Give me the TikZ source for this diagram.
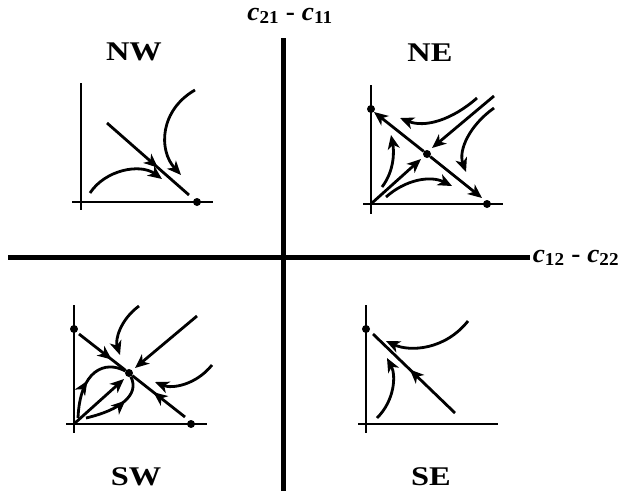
\documentclass[tikz,border=0pt]{standalone}
\usepackage{fontspec}
\setmainfont{Liberation Serif}
\usetikzlibrary{arrows.meta, decorations.markings}

\begin{document}
\begin{tikzpicture}[
  x=1pt, y=-1pt,
  bigax/.style={line width=5pt},
  ax/.style={line width=2.8pt},
  flow/.style={line width=2.8pt, -{Stealth[length=14pt, width=12pt, inset=4pt]}},
  mid/.style={line width=2.8pt, postaction={decorate}, decoration={markings, mark=at position #1 with {\arrow{Stealth[length=14pt, width=12pt, inset=4pt]}}}},
  dot/.style={circle, fill=black, inner sep=0pt, minimum size=8pt},
  quad/.style={font=\fontsize{27}{30}\selectfont\bfseries, xscale=1.2},
  axlabel/.style={font=\fontsize{26}{30}\selectfont\bfseries, xscale=1.05}
  ]
  \useasboundingbox (0,0) rectangle (619,491);
  % main axes
  \node[axlabel] (vlab) at (290,16) {\textit{c}\textsubscript{21} - \textit{c}\textsubscript{11}};
  \node[axlabel] (hlab) at (576,258) {\textit{c}\textsubscript{12} - \textit{c}\textsubscript{22}};
  \coordinate (top) at (283,38);
  \coordinate (bot) at (283,491);
  \coordinate (lft) at (8,257);
  \coordinate (rgt) at (530,257);
  \draw[bigax] (top) -- (bot);
  \draw[bigax] (lft) -- (rgt);
  \node[quad] (nw) at (134,52) {NW};
  \node[quad] (ne) at (430,53) {NE};
  \node[quad] (sw) at (136,477) {SW};
  \node[quad] (se) at (431,477) {SE};

  % NW
  \draw[ax] (81,83) -- (81,210);
  \draw[ax] (72,202) -- (213,202);
  \node[dot] (nwx) at (197,202) {};
  \draw[mid=0.62] (107,123) -- (189,195);
  \draw[flow] (90,193) .. controls (105,170) and (140,163) .. (162,179);
  \draw[flow] (195,90) .. controls (160,110) and (158,150) .. (181,175);

  % NE
  \draw[ax] (371,85) -- (371,214);
  \draw[ax] (363,204) -- (503,204);
  \node[dot] (ney) at (371,109) {};
  \node[dot] (nex) at (487,204) {};
  \node[dot] (nec) at (427,154) {};
  \draw[flow] (nec) -- (374,112);
  \draw[flow] (nec) -- (482,198);
  \draw[flow] (372,203) -- (421,159);
  \draw[flow] (494,96) -- (432,148);
  \draw[flow] (477,98) .. controls (452,120) and (425,128) .. (400,118);
  \draw[flow] (494,108) .. controls (470,125) and (458,150) .. (466,172);
  \draw[flow] (382,187) .. controls (395,170) and (394,150) .. (391,135);
  \draw[flow] (386,197) .. controls (405,180) and (430,175) .. (452,186);

  % SW
  \draw[ax] (74,305) -- (74,433);
  \draw[ax] (66,424) -- (207,424);
  \node[dot] (swy) at (74,329) {};
  \node[dot] (swx) at (191,424) {};
  \node[dot] (swc) at (129,373) {};
  \draw[mid=0.7] (79,334) -- (swc);
  \draw[mid=0.6] (185,417) -- (swc);
  \draw[flow] (75,423) -- (124,379);
  \draw[flow] (197,316) -- (135,368);
  \draw[flow] (139,306) .. controls (120,320) and (115,340) .. (120,355);
  \draw[flow] (212,365) .. controls (196,385) and (172,389) .. (155,382);
  \draw[mid=0.47] (78,418) .. controls (80,370) and (105,360) .. (swc);
  \draw[mid=0.62] (86,418) .. controls (120,410) and (140,395) .. (swc);

  % SE
  \draw[ax] (366,305) -- (366,433);
  \draw[ax] (358,424) -- (498,424);
  \node[dot] (sey) at (366,329) {};
  \draw[mid=0.55] (455,413) -- (373,334);
  \draw[flow] (468,321) .. controls (445,350) and (410,352) .. (386,341);
  \draw[flow] (377,418) .. controls (395,400) and (396,375) .. (387,358);
\end{tikzpicture}
\end{document}
